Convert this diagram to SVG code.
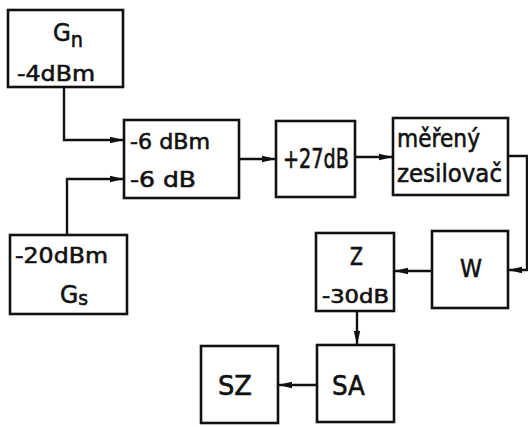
<svg xmlns="http://www.w3.org/2000/svg" width="528" height="427" viewBox="0 0 528 427">
<style>
.box{fill:#fff;stroke:#111;stroke-width:2.6}
.ln{fill:none;stroke:#111;stroke-width:2.4}
text{font-family:"DejaVu Sans","Liberation Sans",sans-serif;fill:#111;stroke:#111;stroke-width:0.6}
</style>
<defs>
<marker id="ah" markerUnits="userSpaceOnUse" markerWidth="14" markerHeight="8" refX="13" refY="4" orient="auto">
<path d="M0,0.8 L14,4 L0,7.2 Z" fill="#111"/>
</marker>
</defs>
<rect width="528" height="427" fill="#fff"/>
<g id="connectors">
<path class="ln" d="M64,87 V140 H123" marker-end="url(#ah)"/>
<path class="ln" d="M67,235 V179 H123" marker-end="url(#ah)"/>
<path class="ln" d="M239,159 H275" marker-end="url(#ah)"/>
<path class="ln" d="M355,157 H392" marker-end="url(#ah)"/>
<path class="ln" d="M508,156 H527 V270 H509" marker-end="url(#ah)"/>
<path class="ln" d="M432,271 H395" marker-end="url(#ah)"/>
<path class="ln" d="M357,311 V344" marker-end="url(#ah)"/>
<path class="ln" d="M317,385 H279" marker-end="url(#ah)"/>
</g>
<g id="Gn">
<rect class="box" x="8" y="10" width="115" height="77"/>
<text x="53" y="41" font-size="25" textLength="30" lengthAdjust="spacingAndGlyphs">G<tspan dy="6" font-size="21">n</tspan></text>
<text x="17" y="81" font-size="22" textLength="78" lengthAdjust="spacingAndGlyphs">-4dBm</text>
</g>
<g id="combiner">
<rect class="box" x="124" y="120" width="115" height="78"/>
<text x="130" y="149" font-size="22" textLength="80" lengthAdjust="spacingAndGlyphs">-6 dBm</text>
<text x="130" y="187" font-size="22" textLength="66" lengthAdjust="spacingAndGlyphs">-6 dB</text>
</g>
<g id="Gs">
<rect class="box" x="10" y="235" width="117" height="79"/>
<text x="15" y="263" font-size="22" textLength="93" lengthAdjust="spacingAndGlyphs">-20dBm</text>
<text x="60" y="303" font-size="25" textLength="28" lengthAdjust="spacingAndGlyphs">G<tspan dy="2" font-size="20">s</tspan></text>
</g>
<g id="amp27">
<rect class="box" x="276" y="121" width="79" height="76"/>
<text x="283" y="168" font-size="27" textLength="66" lengthAdjust="spacingAndGlyphs">+27dB</text>
</g>
<g id="dut">
<rect class="box" x="393" y="118" width="115" height="77"/>
<text x="397" y="147" font-size="25" textLength="83" lengthAdjust="spacingAndGlyphs">měřený</text>
<text x="397" y="182" font-size="25" textLength="105" lengthAdjust="spacingAndGlyphs">zesilovač</text>
</g>
<g id="W">
<rect class="box" x="432" y="231" width="76" height="77"/>
<text x="460" y="277" font-size="25" textLength="22" lengthAdjust="spacingAndGlyphs">W</text>
</g>
<g id="Z">
<rect class="box" x="316" y="233" width="78" height="78"/>
<text x="350" y="265" font-size="24" textLength="13" lengthAdjust="spacingAndGlyphs">Z</text>
<text x="322" y="303" font-size="19" textLength="67" lengthAdjust="spacingAndGlyphs">-30dB</text>
</g>
<g id="SA">
<rect class="box" x="317" y="345" width="77" height="77"/>
<text x="332" y="395" font-size="27" textLength="33" lengthAdjust="spacingAndGlyphs">SA</text>
</g>
<g id="SZ">
<rect class="box" x="201" y="346" width="77" height="77"/>
<text x="218" y="395" font-size="27" textLength="34" lengthAdjust="spacingAndGlyphs">SZ</text>
</g>
</svg>
